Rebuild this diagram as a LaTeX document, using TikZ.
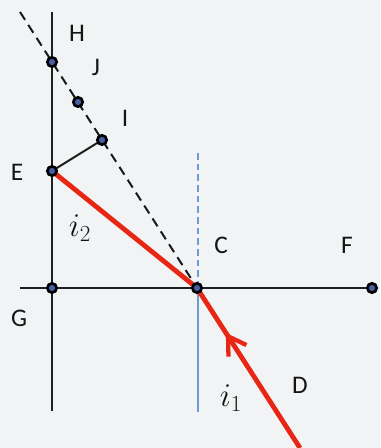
\documentclass[tikz,border=0pt]{standalone}
\usepackage{fontspec}
\setmainfont{Carlito}
\usetikzlibrary{arrows.meta,decorations.markings}
\definecolor{bg}{RGB}{241,243,244}
\definecolor{rayred}{RGB}{232,38,20}
\definecolor{normblue}{RGB}{110,155,210}
\definecolor{dotin}{RGB}{70,95,165}
\begin{document}
\begin{tikzpicture}[x=0.75pt,y=-0.75pt,
  lbl/.style={font=\fontsize{19}{22}\selectfont, text=black!92},
  mlbl/.style={font=\fontsize{24}{28}\selectfont, text=black!92},
  dot/.style={circle, draw=black, line width=2pt, fill=dotin, inner sep=0pt, minimum size=7pt},
  axis/.style={draw=black!88, line width=1.7pt},
  ray/.style={draw=rayred, line width=3.6pt},
  normal/.style={draw=normblue, line width=1.5pt},
  ext/.style={draw=black!90, line width=1.5pt, dash pattern=on 7pt off 4.5pt}]
\fill[bg] (0,0) rectangle (380,448);
\useasboundingbox (0,0) rectangle (380,448);
% points
\coordinate (Vtop) at (52,12);
\coordinate (Vbot) at (52,411);
\coordinate (Hl) at (20,288);
\coordinate (F) at (372,288);
\coordinate (G) at (52,288);
\coordinate (C) at (197,288);
\coordinate (E) at (52,171);
\coordinate (I) at (102,140);
\coordinate (K) at (78,102);
\coordinate (J) at (52,62);
\coordinate (Dstart) at (20,12);
\coordinate (Dend) at (226,333);
\coordinate (D) at (300,448);
\coordinate (Ntop) at (198,153);
\coordinate (Nmid) at (198,288);
\coordinate (Nbot) at (198,412);
% normal
\draw[normal, dash pattern=on 5pt off 3pt] (Ntop) -- (Nmid);
\draw[normal] (Nmid) -- (Nbot);
% axes
\draw[axis] (Vtop) -- (Vbot);
\draw[axis] (Hl) -- (F);
% extension dashed
\draw[ext] (Dstart) -- (Dend);
% perpendicular E-I
\draw[axis, line width=1.5pt] (E) -- (I);
% rays
\draw[ray, postaction={decorate}, decoration={markings, mark=at position 0.72 with {\arrow[rayred, line width=3.2pt]{Straight Barb[length=13pt,width=16pt]}}}] (D) -- (C);
\draw[ray] (C) -- (E);
% dots
\node[dot] (dJ) at (J) {};
\node[dot] (dK) at (K) {};
\node[dot] (dI) at (I) {};
\node[dot] (dE) at (E) {};
\node[dot] (dG) at (G) {};
\node[dot] (dC) at (C) {};
\node[dot] (dF) at (F) {};
% labels
\node[lbl] (lH) at (77,33) {H};
\node[lbl] (lJ) at (96,67) {J};
\node[lbl] (lI) at (125,118) {I};
\node[lbl] (lE) at (17,172) {E};
\node[lbl] (lG) at (19,318) {G};
\node[lbl] (lC) at (221,245) {C};
\node[lbl] (lF) at (347,245) {F};
\node[lbl] (lD) at (300,385) {D};
\node[mlbl] (li2) at (80,228) {$i_2$};
\node[mlbl] (li1) at (231,398) {$i_1$};
\end{tikzpicture}
\end{document}
